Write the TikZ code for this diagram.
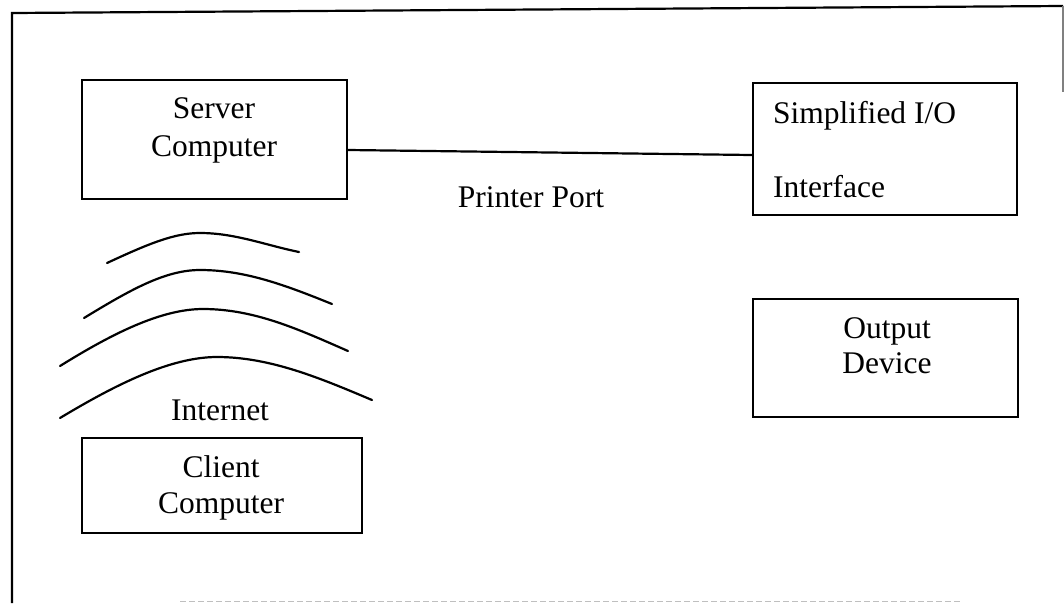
\documentclass[tikz,border=0pt]{standalone}
\usepackage{fontspec}
\setmainfont{Liberation Serif}
\begin{document}
\begin{tikzpicture}[x=1pt,y=-1pt,
  unit/.style={draw, line width=2.2pt, inner sep=0pt},
  lbl/.style={font=\fontsize{31.5}{36}\selectfont, inner sep=0pt},
  wave/.style={line width=2.2pt, line cap=round}]
\useasboundingbox (0,0) rectangle (1064,603);
% outer frame
\draw[line width=2.2pt] (12,603) -- (12,13) -- (1063,6);
\draw[line width=1.2pt, gray] (1063,6) -- (1063,92);
\draw[line width=1pt, gray!50, dash pattern=on 6pt off 3pt] (180,601) -- (960,601);
% boxes
\node[unit, minimum width=265pt, minimum height=119pt] (server) at (214.5,139.5) {};
\node[unit, minimum width=264pt, minimum height=132pt] (sio) at (885,149) {};
\node[unit, minimum width=265pt, minimum height=118pt] (out) at (885.5,358) {};
\node[unit, minimum width=280pt, minimum height=95pt] (client) at (222,485.5) {};
% texts
\node[lbl, anchor=base] (t1) at (214,118) {Server};
\node[lbl, anchor=base] (t2) at (214,156) {Computer};
\node[lbl, anchor=base west] (t3) at (773,123) {Simplified I/O};
\node[lbl, anchor=base west] (t4) at (773,197) {Interface};
\node[lbl, anchor=base] (t5) at (887,338) {Output};
\node[lbl, anchor=base] (t6) at (887,373) {Device};
\node[lbl, anchor=base] (t7) at (221,477) {Client};
\node[lbl, anchor=base] (t8) at (221,513) {Computer};
\node[lbl, anchor=base] (inet) at (220,420) {Internet};
\node[lbl, anchor=base] (port) at (531,207) {Printer Port};
% printer port link
\draw[line width=2.2pt] ([yshift=-10.5pt]server.east) -- ([yshift=-6pt]sio.west);
% internet waves
\draw[wave] (107,263) .. controls (150,243) and (175,233) .. (200,233) .. controls (235,233) and (265,245) .. (299,252);
\draw[wave] (84,318) .. controls (130,290) and (165,270) .. (200,270) .. controls (245,270) and (285,285) .. (332,304);
\draw[wave] (60,366) .. controls (110,335) and (160,309) .. (203,309) .. controls (255,309) and (300,330) .. (348,351);
\draw[wave] (60,418) .. controls (115,385) and (170,357) .. (217,357) .. controls (270,357) and (320,378) .. (372,400);
\end{tikzpicture}
\end{document}
